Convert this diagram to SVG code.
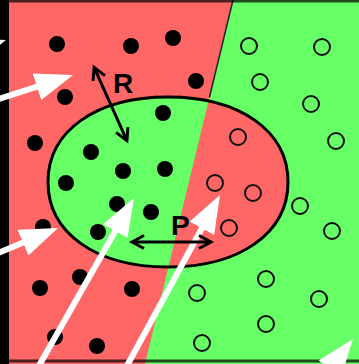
<svg xmlns="http://www.w3.org/2000/svg" width="359" height="364" viewBox="0 0 359 364">
<style>
.red{fill:#ff6666}
.green{fill:#66ff66}
.dot{fill:#000}
.hol{fill:none;stroke:#111;stroke-width:2}
.wa{stroke:#fff;stroke-width:6;fill:none;marker-end:url(#wh)}
.ba{stroke:#000;stroke-width:3;fill:none;marker-start:url(#bk);marker-end:url(#bk)}
.lbl{font-family:"Liberation Sans",Arial,sans-serif;font-weight:bold;font-size:28px;fill:#000}
</style>
<defs>
<clipPath id="ell"><path d="M288,182 C288,233 240,267 168,267 C96,267 48,233 48,182 C48,131 96,97 168,97 C240,97 288,131 288,182 Z"/></clipPath>
<marker id="wh" markerUnits="userSpaceOnUse" viewBox="0 0 38 28" refX="1" refY="14" markerWidth="38" markerHeight="28" orient="auto"><path d="M0,0 L38,14 L0,28 Z" fill="#fff"/></marker>
<marker id="bk" markerUnits="userSpaceOnUse" viewBox="-15 -9 19 18" refX="0" refY="0" markerWidth="19" markerHeight="18" orient="auto-start-reverse"><path d="M-12,-6.5 L0,0 L-12,6.5" fill="none" stroke="#000" stroke-width="3"/></marker>
</defs>
<g id="background">
<rect x="0" y="0" width="359" height="364" class="red"/>
<polygon class="green" points="233,0 359,0 359,364 145,364"/>
<line x1="233" y1="0" x2="209.4" y2="97.5" stroke="#222" stroke-width="1.5"/>
</g>
<g id="selected" clip-path="url(#ell)">
<polygon class="green" points="0,0 233,0 145,364 0,364"/>
<polygon class="red" points="233,0 359,0 359,364 145,364"/>
</g>
<g id="selected-outline"><path d="M288,182 C288,233 240,267 168,267 C96,267 48,233 48,182 C48,131 96,97 168,97 C240,97 288,131 288,182 Z" fill="none" stroke="#000" stroke-width="3"/></g>
<g id="frame">
<rect x="0" y="0" width="9" height="364" fill="#000"/>
<rect x="9" y="0" width="350" height="2.5" fill="#000" opacity="0.7"/>
<rect x="9" y="359.5" width="350" height="3" fill="#000" opacity="0.7"/>
</g>
<g id="relevant">
<circle class="dot" cx="57" cy="44" r="8"/>
<circle class="dot" cx="131" cy="46" r="8"/>
<circle class="dot" cx="173" cy="38" r="8"/>
<circle class="dot" cx="196" cy="81" r="8"/>
<circle class="dot" cx="65" cy="97" r="8"/>
<circle class="dot" cx="163" cy="113" r="8"/>
<circle class="dot" cx="35" cy="143" r="8"/>
<circle class="dot" cx="91" cy="152" r="8"/>
<circle class="dot" cx="123" cy="171" r="8"/>
<circle class="dot" cx="165" cy="169" r="8"/>
<circle class="dot" cx="66" cy="183" r="8"/>
<circle class="dot" cx="117" cy="204" r="8"/>
<circle class="dot" cx="151" cy="212" r="8"/>
<circle class="dot" cx="43" cy="227" r="8"/>
<circle class="dot" cx="98" cy="232" r="8"/>
<circle class="dot" cx="80" cy="277" r="8"/>
<circle class="dot" cx="40" cy="288" r="8"/>
<circle class="dot" cx="132" cy="289" r="8"/>
<circle class="dot" cx="55" cy="337" r="8"/>
<circle class="dot" cx="97" cy="346" r="8"/>
</g>
<g id="irrelevant">
<circle class="hol" cx="249" cy="46" r="8"/>
<circle class="hol" cx="322" cy="47" r="8"/>
<circle class="hol" cx="260" cy="82" r="8"/>
<circle class="hol" cx="311" cy="104" r="8"/>
<circle class="hol" cx="336" cy="141" r="8"/>
<circle class="hol" cx="238" cy="137" r="8"/>
<circle class="hol" cx="215" cy="183" r="8"/>
<circle class="hol" cx="253" cy="193" r="8"/>
<circle class="hol" cx="229" cy="228" r="8"/>
<circle class="hol" cx="300" cy="206" r="8"/>
<circle class="hol" cx="332" cy="231" r="8"/>
<circle class="hol" cx="266" cy="279" r="8"/>
<circle class="hol" cx="197" cy="293" r="8"/>
<circle class="hol" cx="319" cy="299" r="8"/>
<circle class="hol" cx="266" cy="324" r="8"/>
<circle class="hol" cx="202" cy="343" r="8"/>
</g>
<g id="connectors">
<line class="wa" x1="-60" y1="61.4" x2="-29.15" y2="51.39"/>
<line class="wa" x1="-10" y1="101.9" x2="37.85" y2="86.39"/>
<line class="wa" x1="-14" y1="258.1" x2="23.85" y2="242.28"/>
<line class="wa" x1="34.3" y1="374" x2="115.76" y2="230.19"/>
<line class="wa" x1="122.5" y1="374" x2="202.32" y2="227.48"/>
<line class="wa" x1="311.4" y1="392.8" x2="330.35" y2="368.27"/>
<line class="ba" x1="94.1" y1="67.3" x2="126.9" y2="140.7"/>
<line class="ba" x1="132" y1="242" x2="211" y2="242"/>
</g>
<g id="label-R"><text class="lbl" x="113" y="93">R</text></g>
<g id="label-P"><text class="lbl" x="171" y="235">P</text></g>
</svg>
